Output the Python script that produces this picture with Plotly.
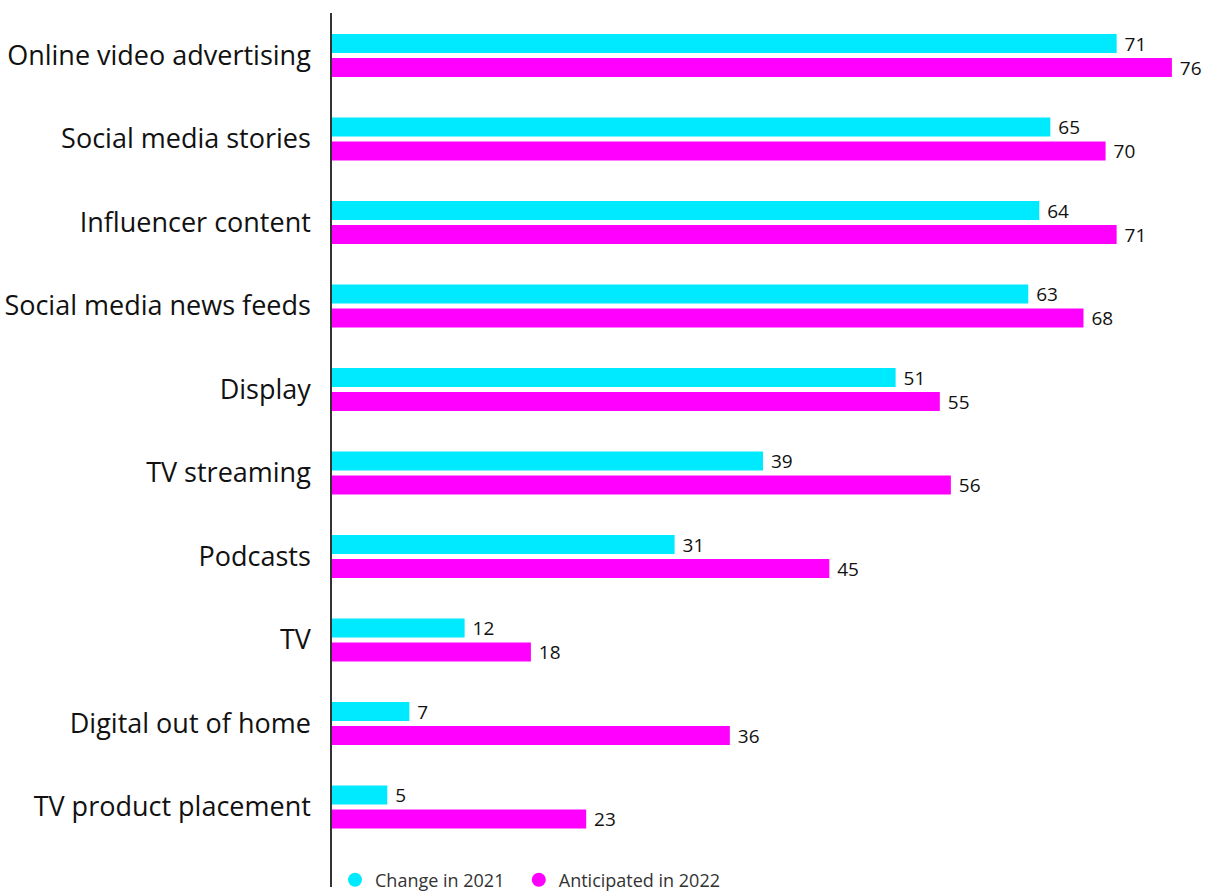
import plotly.graph_objects as go

categories = ["Online video advertising", "Social media stories", "Influencer content",
              "Social media news feeds", "Display", "TV streaming", "Podcasts", "TV",
              "Digital out of home", "TV product placement"]
change_2021 = [71, 65, 64, 63, 51, 39, 31, 12, 7, 5]
anticipated_2022 = [76, 70, 71, 68, 55, 56, 45, 18, 36, 23]
series_names = ["Change in 2021", "Anticipated in 2022"]

CYAN = "#00EAFF"
MAGENTA = "#FF00FF"
FONT = "Open Sans"

fig = go.Figure()
for vals, nm, col in [(change_2021, series_names[0], CYAN),
                      (anticipated_2022, series_names[1], MAGENTA)]:
    fig.add_trace(go.Bar(y=categories, x=vals, orientation="h", name=nm,
                         marker=dict(color=col, line=dict(width=0)),
                         text=vals, texttemplate="\u00a0%{x}", textposition="outside",
                         constraintext="none",
                         textfont=dict(size=19, color="#111111", family=FONT),
                         cliponaxis=False, showlegend=False))
# legend entries with circular markers
for nm, col in [(series_names[0] + "\u00a0\u00a0", CYAN), (series_names[1], MAGENTA)]:
    fig.add_trace(go.Scatter(x=[None], y=[None], mode="markers", name=nm,
                             marker=dict(symbol="circle", size=14, color=col)))

fig.update_layout(
    width=1215, height=891,
    margin=dict(l=332, r=21, t=13, b=4, autoexpand=False),
    paper_bgcolor="white", plot_bgcolor="white",
    barmode="group", bargap=0.425, bargroupgap=0.208,
    font=dict(family=FONT, color="#111111"),
    showlegend=True,
    legend=dict(orientation="h", x=0.0035, y=0.008, xanchor="left", yanchor="middle",
                font=dict(size=18, color="#333333", family=FONT),
                bgcolor="rgba(0,0,0,0)", itemwidth=30, tracegroupgap=0),
)
fig.update_xaxes(range=[0, 78], showgrid=False, zeroline=False, showticklabels=False,
                 showline=False)
fig.update_yaxes(categoryorder="array", categoryarray=categories, range=[9.958, -0.509],
                 showgrid=False, zeroline=False, showline=True, linecolor="#333333",
                 linewidth=1.5, ticks="", ticklabelstandoff=14,
                 tickfont=dict(size=27, color="#111111", family=FONT))

fig.write_html("out.html")
